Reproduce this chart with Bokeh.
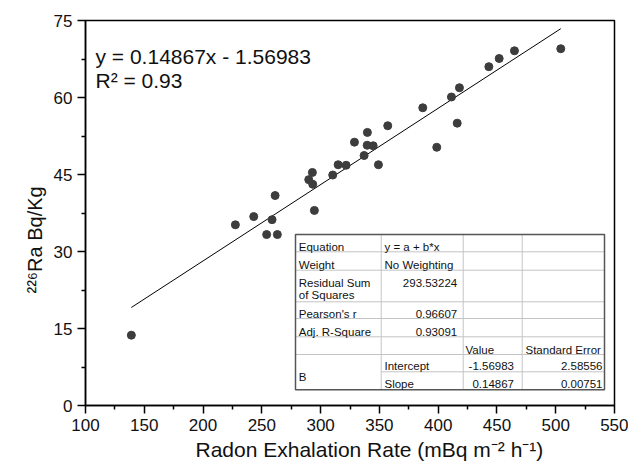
import numpy as np
from bokeh.plotting import figure
from bokeh.models import Range1d, FixedTicker, Label, Title
from bokeh.core.properties import value
from bokeh.embed import file_html
from bokeh.resources import INLINE

# ---------------- data ----------------
radon = [139.0, 227.5, 243.1, 258.7, 254.1, 263.2, 261.3, 289.9, 293.0, 293.3,
         294.7, 310.3, 314.9, 321.7, 328.8, 337.0, 339.6, 344.7, 339.8, 349.2,
         357.1, 386.9, 398.8, 411.3, 416.2, 418.1, 443.1, 451.9, 464.9, 504.3]
ra226 = [13.7, 35.2, 36.8, 36.2, 33.3, 33.3, 40.9, 44.0, 45.4, 43.1,
         38.0, 44.9, 46.9, 46.8, 51.3, 48.7, 50.7, 50.6, 53.2, 46.9,
         54.5, 58.0, 50.3, 60.1, 55.0, 61.9, 66.0, 67.6, 69.1, 69.5]
slope = 0.14867
intercept = -1.56983

x_ticks = [100, 150, 200, 250, 300, 350, 400, 450, 500, 550]
x_minor = [125, 175, 225, 275, 325, 375, 425, 475, 525]
y_ticks = [0, 15, 30, 45, 60, 75]
y_minor = [7.5, 22.5, 37.5, 52.5, 67.5]

x_title = "Radon Exhalation Rate (mBq m\u207b\u00b2 h\u207b\u00b9)"
y_title = "\u00b2\u00b2\u2076Ra Bq/Kg"
eq_text = "y = 0.14867x - 1.56983"
r2_text = "R\u00b2 = 0.93"

table_names = ["Equation", "Weight", "Residual Sum", "of Squares", "Pearson's r", "Adj. R-Square", "B"]
table_col1 = ["y = a + b*x", "No Weighting", "Intercept", "Slope"]
table_values = ["293.53224", "0.96607", "0.93091"]
table_head = ["Value", "Standard Error"]
fit_values = ["-1.56983", "0.14867"]
fit_errors = ["2.58556", "0.00751"]

# ---------------- layout helpers ----------------
W, H = 628, 467
FL, FR, FT, FB = 85, 614, 20, 405
X0, X1, Y0, Y1 = 100, 550, 0, 75


def X(px):
    return X0 + (px - FL) * (X1 - X0) / (FR - FL)


def Y(py):
    return Y0 + (FB - py) * (Y1 - Y0) / (FB - FT)


FONT = "Liberation Sans"

p = figure(width=W, height=H, output_backend="svg", toolbar_location=None,
           x_range=Range1d(X0, X1), y_range=Range1d(Y0, Y1),
           min_border_left=FL, min_border_right=W - FR,
           min_border_top=FT, min_border_bottom=H - FB)
p.background_fill_color = "white"
p.border_fill_color = "white"
p.outline_line_color = "black"
p.outline_line_width = 1.5
p.outline_line_alpha = 1
p.xgrid.visible = False
p.ygrid.visible = False

for ax, tk, mn in ((p.xaxis[0], x_ticks, x_minor), (p.yaxis[0], y_ticks, y_minor)):
    ax.ticker = FixedTicker(ticks=tk, minor_ticks=mn)
    ax.axis_line_color = "black"
    ax.axis_line_width = 1.5
    ax.major_tick_in = 0
    ax.major_tick_out = 8
    ax.minor_tick_in = 0
    ax.minor_tick_out = 4
    ax.major_tick_line_width = 1.5
    ax.minor_tick_line_width = 1.5
    ax.major_tick_line_color = "black"
    ax.minor_tick_line_color = "black"
    ax.major_label_text_font = FONT
    ax.major_label_text_font_size = "17px"
    ax.major_label_text_color = "#111111"
    ax.major_label_standoff = 5

# axis titles as side-panel titles (positioned like the reference)
p.add_layout(Title(text=x_title, align="left", offset=110, standoff=5,
                   text_font=FONT, text_font_size="21px", text_font_style="normal",
                   text_color="#111111"), "below")
p.add_layout(Title(text=y_title, align="left", offset=112, standoff=10,
                   text_font=FONT, text_font_size="20px", text_font_style="normal",
                   text_color="#111111"), "left")

# regression line and points
xs = np.array([min(radon), max(radon)])
p.line(xs, slope * xs + intercept, line_color="black", line_width=1)
p.scatter(radon, ra226, size=8, fill_color="#3d3d3d", line_color="#3d3d3d")

# ---------------- statistics table ----------------
cols = [295, 380.7, 462.7, 521.7, 604]
rows = [234, 251.3, 269.7, 301.3, 318, 336.3, 354, 371.3, 389.3]
p.quad(left=[X(cols[0])], right=[X(cols[-1])], top=[Y(rows[0])], bottom=[Y(rows[-1])],
       fill_color="white", line_color=None)
sx0, sy0, sx1, sy1 = [], [], [], []
for r in rows[1:-2]:
    sx0.append(X(cols[0])); sx1.append(X(cols[-1])); sy0.append(Y(r)); sy1.append(Y(r))
sx0.append(X(cols[1])); sx1.append(X(cols[-1])); sy0.append(Y(rows[-2])); sy1.append(Y(rows[-2]))
for c in cols[1:-1]:
    sx0.append(X(c)); sx1.append(X(c)); sy0.append(Y(rows[0])); sy1.append(Y(rows[-1]))
p.segment(x0=sx0, y0=sy0, x1=sx1, y1=sy1, line_color="#c4c4c4", line_width=1)
p.quad(left=[X(cols[0])], right=[X(cols[-1])], top=[Y(rows[0])], bottom=[Y(rows[-1])],
       fill_color=None, line_color="#555555", line_width=1.5)

name_base = [246.5, 264, 282, 294, 313, 331, 376]
lx = [X(298.3)] * len(table_names) + [X(384)] * len(table_col1) + [X(465), X(525)]
ly = [Y(b) for b in name_base] + [Y(246.5), Y(264), Y(365), Y(383)] + [Y(349), Y(349)]
p.text(x=lx, y=ly, text=table_names + table_col1 + table_head,
       text_font=value(FONT), text_font_size=value("11.5px"), text_color="#111111",
       text_align="left", text_baseline="alphabetic")
rx = [X(456.7)] * 3 + [X(513.5)] * 2 + [X(602)] * 2
ry = [Y(282), Y(313), Y(331), Y(365), Y(383), Y(365), Y(383)]
p.text(x=rx, y=ry, text=table_values + fit_values + fit_errors,
       text_font=value(FONT), text_font_size=value("11.5px"), text_color="#111111",
       text_align="right", text_baseline="alphabetic")

# ---------------- equation ----------------
for txt, py in ((eq_text, 55.7), (r2_text, 80)):
    p.add_layout(Label(x=X(95), y=Y(py), text=txt, text_font=FONT, text_font_size="21px",
                       text_color="#111111", text_align="left", text_baseline="alphabetic"))

open("out.html", "w").write(file_html(p, INLINE))
